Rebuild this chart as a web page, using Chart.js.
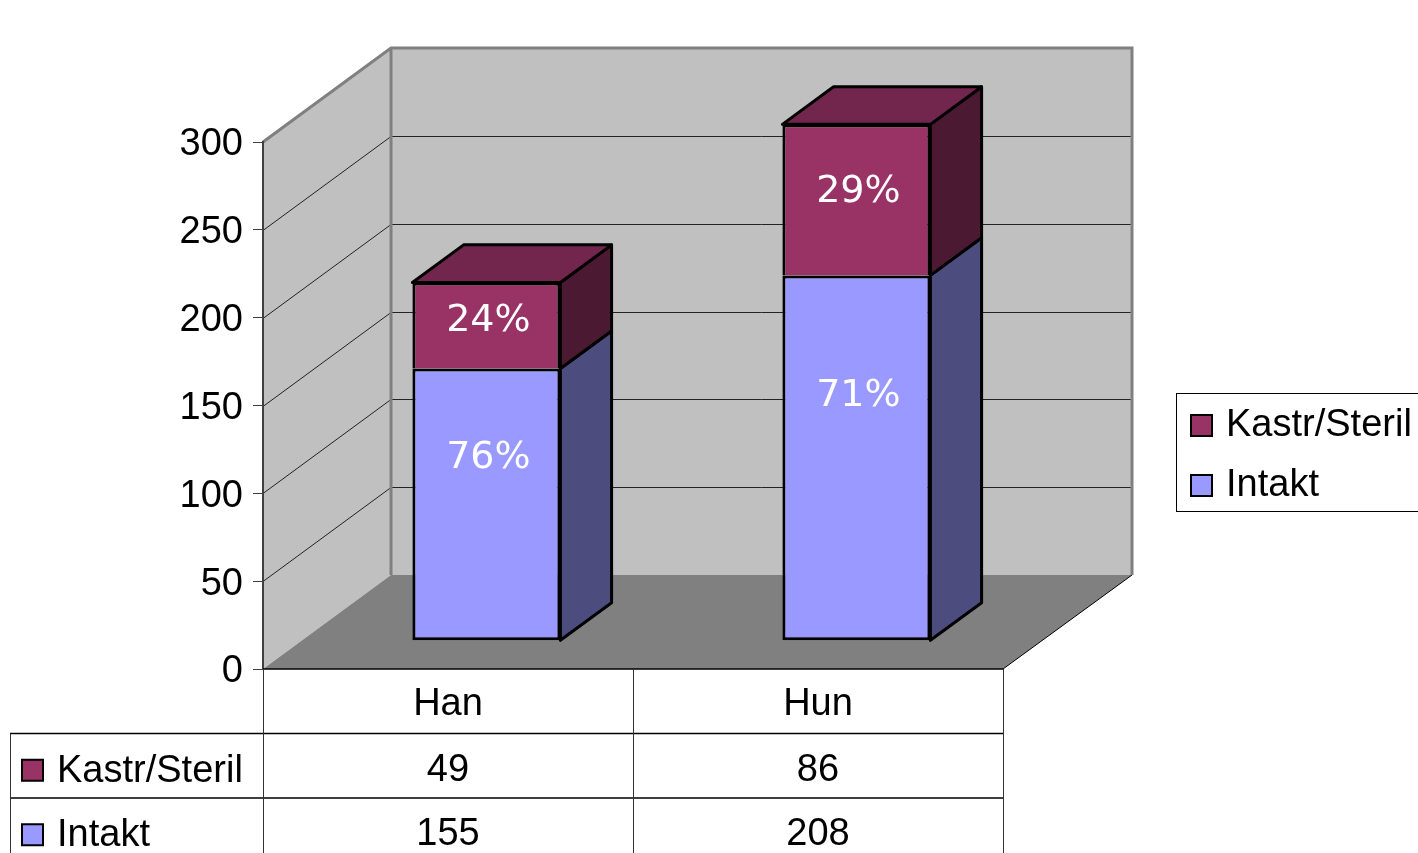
<!DOCTYPE html>
<html>
<head>
<meta charset="utf-8">
<script src="https://cdn.jsdelivr.net/npm/chart.js@4.4.1/dist/chart.umd.min.js"></script>
<style>
  html, body { margin: 0; padding: 0; background: #fff; }
  #wrap { width: 1418px; height: 853px; }
</style>
</head>
<body>
<div id="wrap"><canvas id="kastrChart" width="1418" height="853"></canvas></div>
<script>
// data
const categories = ["Han", "Hun"];
const intaktValues = [155, 208];
const kastrValues = [49, 86];
const seriesNames = ["Intakt", "Kastr/Steril"];
const yTickValues = [0, 50, 100, 150, 200, 250, 300];

const frontColors = ["#9999FF", "#993366"];
const sideColors = ["#4C4C7F", "#4C1933"];
const topColor = "#73264D";
const FONT = '"Liberation Sans", Arial, sans-serif';

// depth of the 3d box (back wall offset) and where the bars sit in it
const DX = 128, DY = -94;
const OX = DX * 0.3, OY = DY * 0.3;   // bar front face
const BX = DX * 0.4, BY = DY * 0.4;   // bar depth

const totals = categories.map((c, i) => intaktValues[i] + kastrValues[i]);

function marker(ctx, x, y, color) {
  ctx.fillStyle = color;
  ctx.fillRect(x, y, 21, 21);
  ctx.strokeStyle = "#000";
  ctx.lineWidth = 2;
  ctx.strokeRect(x, y, 21, 21);
}

const box3d = {
  id: "box3d",
  beforeDraw(chart) {
    const ctx = chart.ctx;
    const a = chart.chartArea;
    const yS = chart.scales.y;
    ctx.save();
    // side wall
    ctx.fillStyle = "#C0C0C0";
    ctx.beginPath();
    ctx.moveTo(a.left, a.top);
    ctx.lineTo(a.left + DX, a.top + DY);
    ctx.lineTo(a.left + DX, a.bottom + DY);
    ctx.lineTo(a.left, a.bottom);
    ctx.closePath();
    ctx.fill();
    // back wall
    ctx.fillRect(a.left + DX, a.top + DY, a.right - a.left + 1, a.bottom - a.top);
    // grid lines
    ctx.strokeStyle = "#222";
    ctx.lineWidth = 1;
    yTickValues.forEach(v => {
      if (v === 0) return;
      const y = Math.round(yS.getPixelForValue(v)) + 0.5;
      ctx.beginPath();
      ctx.moveTo(a.left, y);
      ctx.lineTo(a.left + DX, y + DY);
      ctx.lineTo(a.right + DX + 1, y + DY);
      ctx.stroke();
    });
    // floor
    ctx.fillStyle = "#808080";
    ctx.beginPath();
    ctx.moveTo(a.left, a.bottom);
    ctx.lineTo(a.left + DX, a.bottom + DY);
    ctx.lineTo(a.right + DX + 1, a.bottom + DY);
    ctx.lineTo(a.right, a.bottom);
    ctx.closePath();
    ctx.fill();
    ctx.strokeStyle = "#000";
    ctx.beginPath();
    ctx.moveTo(a.right + DX + 1, a.bottom + DY);
    ctx.lineTo(a.right, a.bottom);
    ctx.stroke();
    // wall edges
    ctx.strokeStyle = "#808080";
    ctx.lineWidth = 3;
    ctx.beginPath();
    ctx.moveTo(a.left, a.top);
    ctx.lineTo(a.left + DX, a.top + DY);
    ctx.lineTo(a.right + DX + 1, a.top + DY);
    ctx.lineTo(a.right + DX + 1, a.bottom + DY);
    ctx.moveTo(a.left + DX, a.top + DY);
    ctx.lineTo(a.left + DX, a.bottom + DY);
    ctx.stroke();
    ctx.restore();
  },
  beforeDatasetsDraw(chart) {
    chart.ctx.save();
    chart.ctx.translate(OX, OY);
  },
  afterDatasetsDraw(chart) {
    const ctx = chart.ctx;
    const nSets = chart.data.datasets.length;
    ctx.lineWidth = 3;
    ctx.lineJoin = "round";
    ctx.strokeStyle = "#000";
    for (let d = 0; d < nSets; d++) {
      chart.getDatasetMeta(d).data.forEach(el => {
        const l = el.x - el.width / 2, r = el.x + el.width / 2;
        ctx.fillStyle = sideColors[d];
        ctx.beginPath();
        ctx.moveTo(r, el.y);
        ctx.lineTo(r + BX, el.y + BY);
        ctx.lineTo(r + BX, el.base + BY);
        ctx.lineTo(r, el.base);
        ctx.closePath();
        ctx.fill();
        ctx.stroke();
        if (d === nSets - 1) {
          ctx.fillStyle = topColor;
          ctx.beginPath();
          ctx.moveTo(l, el.y);
          ctx.lineTo(l + BX, el.y + BY);
          ctx.lineTo(r + BX, el.y + BY);
          ctx.lineTo(r, el.y);
          ctx.closePath();
          ctx.fill();
          ctx.stroke();
        }
      });
    }
    // percentage labels
    ctx.fillStyle = "#fff";
    ctx.font = '38px "DejaVu Sans", sans-serif';
    ctx.textAlign = "center";
    ctx.textBaseline = "middle";
    const fracs = [0.33, 0.45];
    for (let d = 0; d < nSets; d++) {
      const vals = chart.data.datasets[d].data;
      chart.getDatasetMeta(d).data.forEach((el, i) => {
        const pct = Math.round(vals[i] / totals[i] * 100) + "%";
        ctx.fillText(pct, el.x + 2, el.y + fracs[d] * (el.base - el.y));
      });
    }
    ctx.restore();
  },
  afterDraw(chart) {
    const ctx = chart.ctx;
    const a = chart.chartArea;
    const xS = chart.scales.x;
    ctx.save();
    // data table
    const rowH = 64.5;
    const tableLeft = 10;
    const mid = (xS.getPixelForValue(0) + xS.getPixelForValue(1)) / 2;
    ctx.strokeStyle = "#000";
    ctx.lineWidth = 1.5;
    ctx.beginPath();
    ctx.moveTo(a.left, a.bottom);
    ctx.lineTo(a.right, a.bottom);
    for (let r = 1; r <= 2; r++) {
      ctx.moveTo(tableLeft, a.bottom + r * rowH);
      ctx.lineTo(a.right, a.bottom + r * rowH);
    }
    ctx.stroke();
    ctx.strokeStyle = "#333";
    ctx.lineWidth = 1;
    ctx.beginPath();
    [a.left, mid, a.right].forEach(x => {
      ctx.moveTo(Math.round(x) + 0.5, a.bottom);
      ctx.lineTo(Math.round(x) + 0.5, 853);
    });
    ctx.moveTo(tableLeft + 0.5, a.bottom + rowH);
    ctx.lineTo(tableLeft + 0.5, 853);
    ctx.stroke();

    ctx.fillStyle = "#000";
    ctx.font = "38px " + FONT;
    ctx.textAlign = "center";
    ctx.textBaseline = "alphabetic";
    categories.forEach((c, i) => {
      const x = xS.getPixelForValue(i);
      ctx.fillText(c, x, a.bottom + rowH / 2 + 14);
      ctx.fillText(String(kastrValues[i]), x, a.bottom + rowH * 1.5 + 15);
      ctx.fillText(String(intaktValues[i]), x, a.bottom + rowH * 2.5 + 15);
    });
    // row labels: Kastr/Steril first, then Intakt
    ctx.textAlign = "left";
    [1, 0].forEach((d, r) => {
      const cy = a.bottom + rowH * (1.5 + r);
      marker(ctx, 22, cy - 6, frontColors[d]);
      ctx.fillStyle = "#000";
      ctx.fillText(seriesNames[d], 57, cy + 16);
    });

    // legend
    ctx.strokeStyle = "#000";
    ctx.lineWidth = 1;
    ctx.strokeRect(1176.5, 393.5, 245, 118);
    [1, 0].forEach((d, r) => {
      const top = 415 + r * 60;
      marker(ctx, 1191, top, frontColors[d]);
      ctx.fillStyle = "#000";
      ctx.fillText(seriesNames[d], 1226, top + 21);
    });
    ctx.restore();
  }
};

const ctx = document.getElementById("kastrChart").getContext("2d");
const kastrChart = new Chart(ctx, {
  type: "bar",
  data: {
    labels: categories,
    datasets: [
      {
        label: seriesNames[0],
        data: intaktValues,
        backgroundColor: frontColors[0],
        borderColor: "#000",
        borderWidth: 3,
        borderSkipped: false
      },
      {
        label: seriesNames[1],
        data: kastrValues,
        backgroundColor: frontColors[1],
        borderColor: "#000",
        borderWidth: 3,
        borderSkipped: "bottom"
      }
    ]
  },
  options: {
    responsive: false,
    animation: false,
    devicePixelRatio: 1,
    barPercentage: 0.4,
    categoryPercentage: 1.0,
    layout: { padding: { top: 142, right: 415, left: 0, bottom: 0 } },
    plugins: {
      legend: { display: false },
      tooltip: { enabled: false }
    },
    scales: {
      x: {
        stacked: true,
        ticks: { display: false },
        grid: { display: false },
        border: { display: false },
        afterFit: (scale) => { scale.height = 184; }
      },
      y: {
        stacked: true,
        min: 0,
        max: 300,
        afterBuildTicks: (scale) => { scale.ticks = yTickValues.map(v => ({ value: v })); },
        afterFit: (scale) => { scale.width = 263; },
        ticks: {
          color: "#000",
          padding: 10,
          labelOffset: 3,
          font: { family: FONT, size: 38 }
        },
        grid: { drawOnChartArea: false, drawTicks: true, tickLength: 10, color: "#404040" },
        border: { display: true, color: "#404040", width: 2 }
      }
    }
  },
  plugins: [box3d]
});
</script>
</body>
</html>
